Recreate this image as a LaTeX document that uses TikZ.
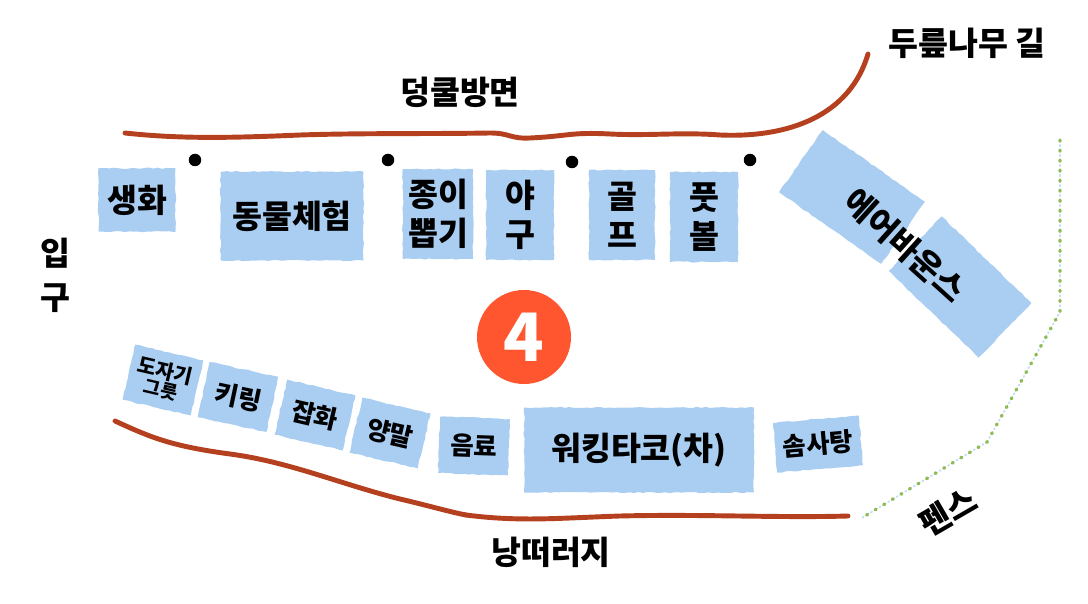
\documentclass[tikz,border=0pt]{standalone}
\usepackage{fontspec}
\setmainfont{Noto Sans CJK KR}[BoldFont={Noto Sans CJK KR Black}]
\usetikzlibrary{decorations.pathmorphing}
\definecolor{stallblue}{HTML}{A9CEF2}
\definecolor{wireblue}{HTML}{BFDDF7}
\definecolor{vine}{HTML}{B5401F}
\definecolor{hedge}{HTML}{8DBB58}
\definecolor{badge}{HTML}{FF5630}
\newcommand{\fsize}[1]{\linespread{1.2}\fontsize{#1}{#1}\selectfont\bfseries}
\tikzset{
	% stalls, edges a little torn
	stall/.style={fill=stallblue, inner sep=0pt, align=center, font=\fsize{18.5},
		decoration={random steps, segment length=2.5pt, amplitude=0.35pt}, decorate},
	bigstall/.style={stall, minimum width=1.41cm, minimum height=1.8cm},
	smallstall/.style={stall, minimum width=1.4cm, minimum height=1.13cm, font=\fsize{14.5}},
	label/.style={inner sep=0pt, font=\fsize{18.5}},
	pin/.style={fill=black, circle, inner sep=0pt, minimum size=0.25cm},
	edge/.style={vine, line width=2.8pt, line cap=round},
	fence/.style={line width=1.9pt, line cap=round, dash pattern=on 0.7pt off 5pt},
}
\begin{document}
\begin{tikzpicture}[x=0.02cm, y=-0.02cm]
	\pgfmathsetseed{7}
	\useasboundingbox (0,0) rectangle (1088,604);

	% top and bottom edges
	\draw [edge] (125,133) .. controls (180,139) and (230,138) .. (300,135)
		.. controls (360,133) and (430,134) .. (490,133)
		.. controls (510,133) and (510,139) .. (530,138)
		.. controls (570,136) and (570,132) .. (610,134)
		.. controls (650,136) and (680,132) .. (720,135)
		.. controls (790,138) and (850,115) .. (868,54);
	\draw [edge] (115,421) .. controls (150,437) and (170,446) .. (230,454)
		.. controls (290,462) and (340,484) .. (400,499)
		.. controls (430,506) and (450,512) .. (466,515);
	\draw [edge] (466,515) .. controls (520,522) and (560,518) .. (620,516)
		.. controls (700,514) and (780,518) .. (848,516);

	% fence
	\draw [fence, wireblue, dash phase=-2.8pt, line width=1pt] (1060,140) -- (1060,312) -- (987,442) -- (860,519);
	\draw [fence, hedge] (1060,140) -- (1060,312) -- (987,442) -- (860,519);

	% upper row
	\node (flower) [stall, minimum width=1.54cm, minimum height=1.27cm] at (137,200) {생화};
	\node (zoo) [stall, minimum width=2.86cm, minimum height=1.78cm] at (292,216) {동물체험};
	\node (paper) [bigstall] at (438,214) {종이\\뽑기};
	\node (baseball) [bigstall, minimum width=1.36cm] at (520,215) {야\\구};
	\node (golf) [bigstall, minimum width=1.32cm] at (622,215) {골\\프};
	\node (football) [bigstall, minimum width=1.36cm] at (704,217) {풋\\볼};
	\node (airone) [stall, minimum width=2.5cm, minimum height=1.52cm, rotate=-35] at (852,197) {};
	\node (airtwo) [stall, minimum width=2.5cm, minimum height=1.52cm, rotate=-44] at (960,287) {};
	\node (airtext) [label, rotate=-42] at (905,245) {에어바운스};

	% pins between the stalls
	\node (pina) [pin] at (195,160) {};
	\node (pinb) [pin] at (388,160) {};
	\node (pinc) [pin] at (572,162) {};
	\node (pind) [pin] at (750,160) {};

	% lower row
	\node (pottery) [smallstall, rotate=-13, font=\fsize{11.5}] at (163,380) {도자기\\[-3pt]{\fsize{10.5}그릇}};
	\node (keyring) [smallstall, rotate=-12] at (238,397) {키링};
	\node (goods) [smallstall, rotate=-13] at (315,415) {잡화};
	\node (socks) [smallstall, rotate=-13] at (390,433) {양말};
	\node (drink) [smallstall, rotate=-2] at (474,446) {음료};
	\node (taco) [stall, minimum width=4.6cm, minimum height=1.7cm] at (639,450) {워킹타코(차)};
	\node (cotton) [stall, minimum width=1.72cm, minimum height=1cm, rotate=5, font=\fsize{14.5}] at (818,444) {솜사탕};

	\node (number) [fill=badge, circle, minimum size=1.88cm, inner sep=0pt, text=white, font=\fsize{38}] at (524,337) {4};

	% place names
	\node (road) [label] at (967,43) {두릎나무 길};
	\node (vines) [label] at (460,92) {덩쿨방면};
	\node (gate) [label, align=center] at (55,275) {입\\[3pt]구};
	\node (cliff) [label] at (551,552) {낭떠러지};
	\node (fencename) [label, rotate=30] at (948,512) {펜스};
\end{tikzpicture}
\end{document}
